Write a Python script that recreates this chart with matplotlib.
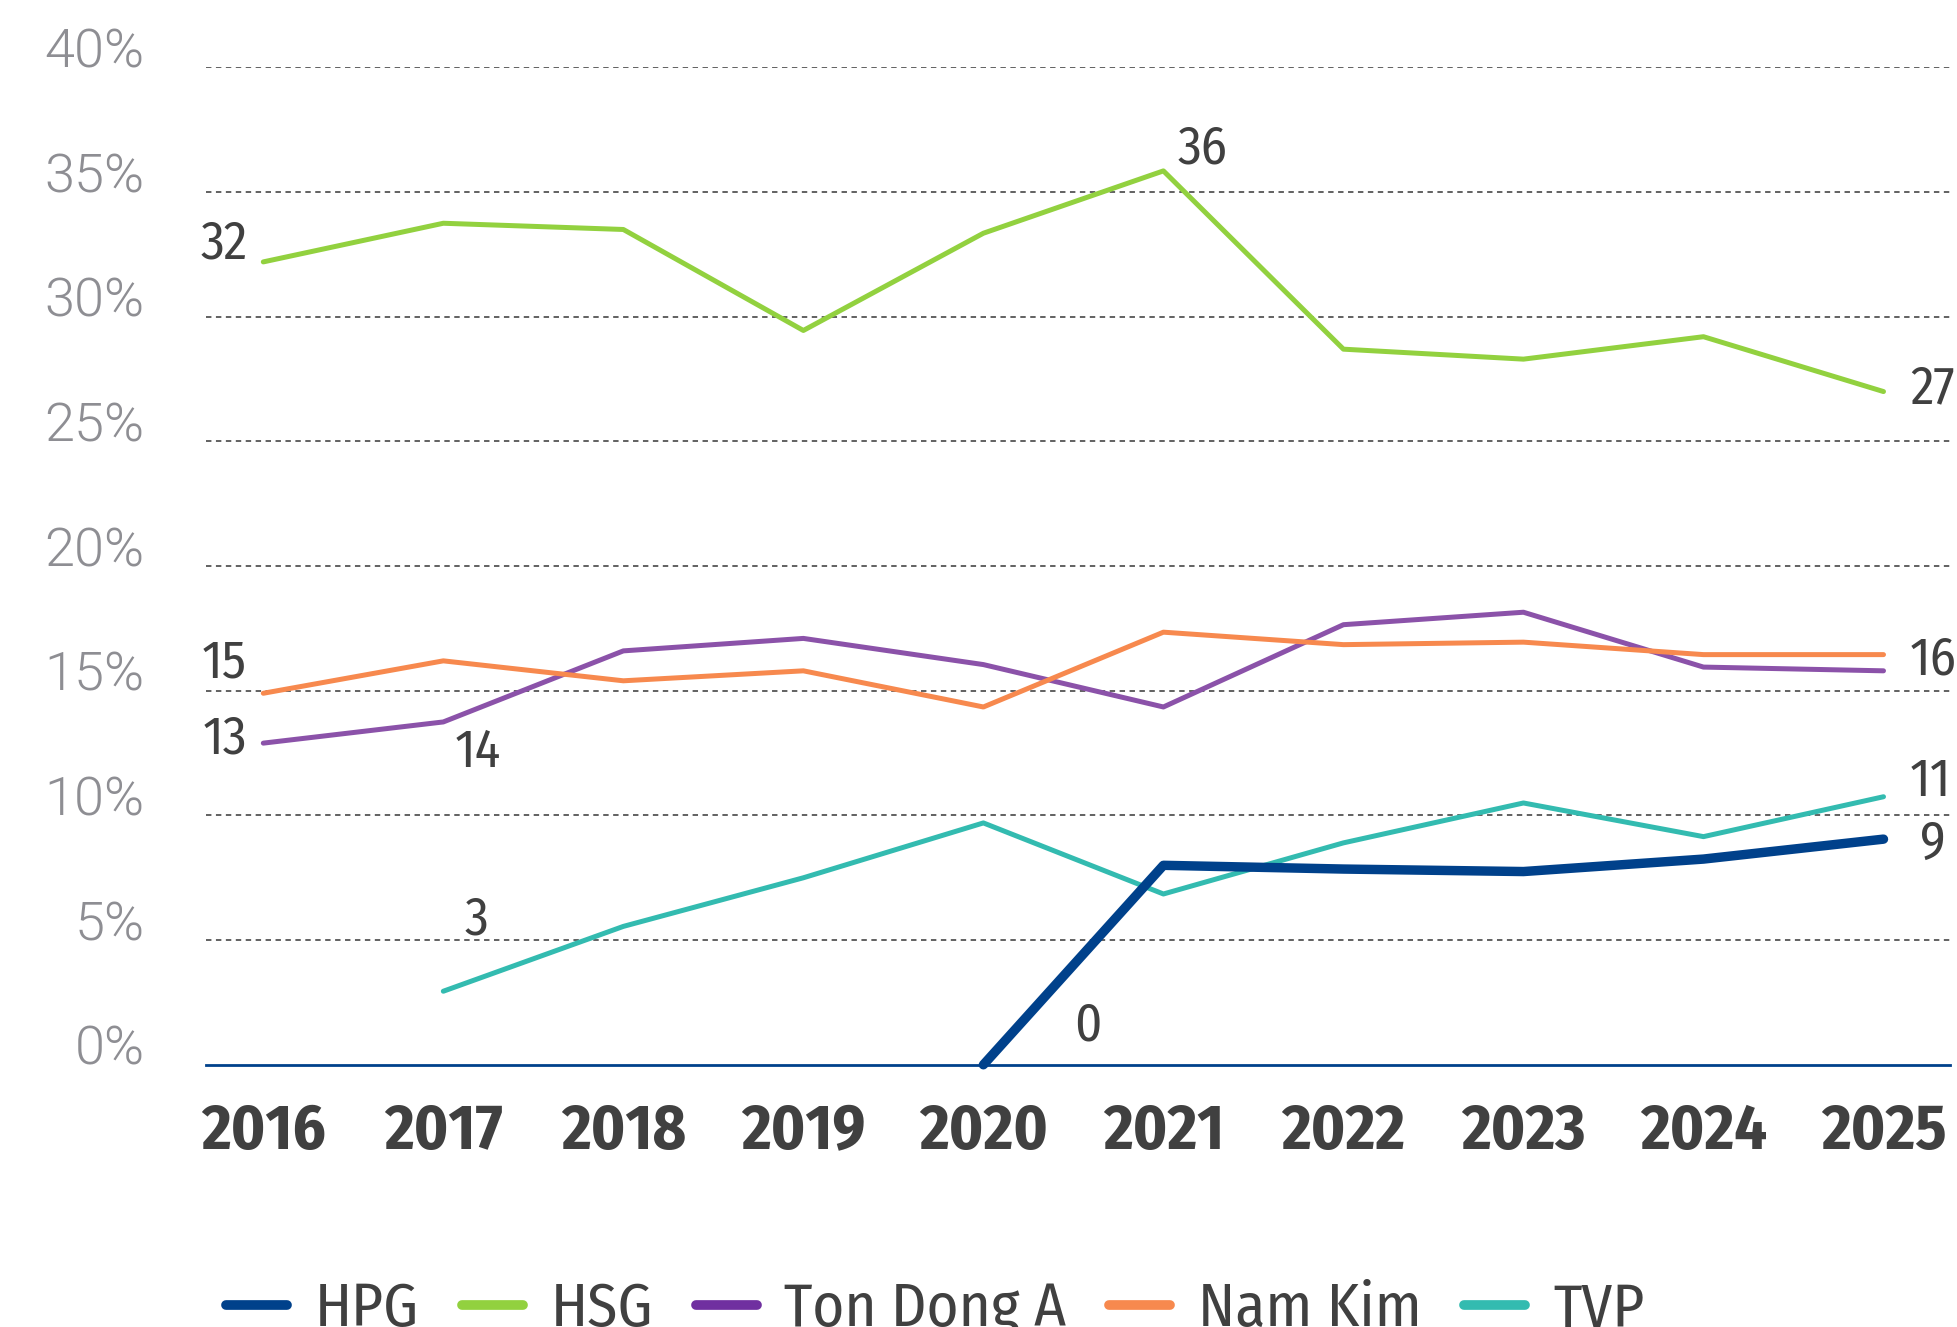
import numpy as np
import matplotlib
matplotlib.use("Agg")
import matplotlib.pyplot as plt
from matplotlib.lines import Line2D

years = [2016, 2017, 2018, 2019, 2020, 2021, 2022, 2023, 2024, 2025]
hpg = [None, None, None, None, 0.0, 8.0, 7.85, 7.75, 8.25, 9.05]
hsg = [32.2, 33.75, 33.5, 29.45, 33.35, 35.85, 28.7, 28.3, 29.2, 27.0]
ton_dong_a = [12.9, 13.75, 16.6, 17.1, 16.05, 14.35, 17.65, 18.15, 15.95, 15.8]
nam_kim = [14.9, 16.2, 15.4, 15.8, 14.35, 17.35, 16.85, 16.95, 16.45, 16.45]
tvp = [None, 2.95, 5.55, 7.5, 9.7, 6.85, 8.9, 10.5, 9.15, 10.75]

names = ["HPG", "HSG", "Ton Dong A", "Nam Kim", "TVP"]
line_colors = ["#00418b", "#92d13f", "#8b52a9", "#f7894e", "#33bbb0"]
legend_colors = ["#00418b", "#92d13f", "#7030a0", "#f7894e", "#33bbb0"]
yticks = [0, 5, 10, 15, 20, 25, 30, 35, 40]

# (series index, year index, dx pt, dy pt, ha)
labels = [
    (1, 0, -28, 13, "center"), (1, 5, 28, 16, "center"), (1, 9, 19, 2, "left"),
    (3, 0, -28, 22, "center"), (2, 0, -28, 3, "center"), (2, 1, 25, -22, "center"),
    (4, 1, 24, 51, "center"), (0, 4, 75, 28, "center"),
    (3, 9, 19, -4, "left"), (4, 9, 19, 11, "left"), (0, 9, 26, -4, "left"),
]

COND = ["Fira Sans Condensed", "DejaVu Sans"]
LIGHT = ["Roboto", "DejaVu Sans"]
DARK = "#404040"


def to_arr(v):
    return np.array([np.nan if x is None else x for x in v], dtype=float)


series = [to_arr(s) for s in (hpg, hsg, ton_dong_a, nam_kim, tvp)]

fig = plt.figure(figsize=(19.57, 13.27), dpi=100)
ax = fig.add_axes([0.1052, 0.1976, 0.891, 0.7516])

for y in yticks[1:]:
    ax.axhline(y, color="#555555", lw=1.3, ls=(0, (3, 2.5)), zorder=1)

for i, s in enumerate(series):
    lw = 6.8 if i == 0 else 3.6
    ax.plot(years, s, color=line_colors[i], lw=lw, solid_capstyle="round",
            solid_joinstyle="round", zorder=4 if i == 0 else 3, clip_on=False)

for si, yi, dx, dy, ha in labels:
    v = series[si][yi]
    ax.annotate(f"{v:.0f}", (years[yi], v), xytext=(dx, dy), textcoords="offset points",
                ha=ha, va="center", fontsize=38, color=DARK, family=COND,
                annotation_clip=False)

ax.set_xlim(2015.681, 2025.367)
ax.set_ylim(0, 40)
for side in ("top", "right", "left"):
    ax.spines[side].set_visible(False)
ax.spines["bottom"].set_color("#00418b")
ax.spines["bottom"].set_linewidth(2.0)

ax.set_xticks(years)
ax.set_xticklabels([str(y) for y in years], fontsize=46, fontweight="bold",
                   color=DARK, family=COND)
ax.set_yticks(yticks)
ax.set_yticklabels([f"{y}%" for y in yticks], fontsize=39, color="#8e8e93",
                   family=LIGHT, fontweight=300)
for t in ax.get_yticklabels():
    t.set_verticalalignment("baseline")
ax.tick_params(axis="x", length=0, pad=26)
ax.tick_params(axis="y", length=0, pad=44)

handles = [Line2D([0], [0], color=c, lw=7, solid_capstyle="round") for c in legend_colors]
fig.legend(handles, names, loc="upper left", bbox_to_anchor=(0.1, 0.058), ncol=5,
           frameon=False, borderpad=0, handlelength=1.0, handletextpad=0.45,
           columnspacing=0.7, prop={"family": COND, "size": 44},
           labelcolor=DARK)

fig.savefig("out.png", dpi=100)
